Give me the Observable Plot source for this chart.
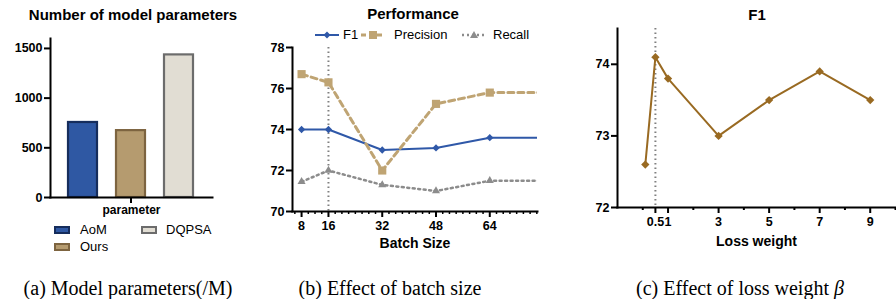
<!DOCTYPE html>
<html>
<head>
<meta charset="utf-8">
<script src="https://cdn.jsdelivr.net/npm/d3@7"></script>
<script src="https://cdn.jsdelivr.net/npm/@observablehq/plot@0.6"></script>
<style>
  html, body { margin: 0; padding: 0; background: #fff; }
  #root { position: relative; width: 896px; height: 299px; overflow: hidden; font-family: "Liberation Sans", Arial, sans-serif; color: #000; }
  .title { position: absolute; font-weight: bold; font-size: 15px; white-space: nowrap; transform: translateX(-50%); line-height: 1; }
  .cap { position: absolute; font-family: "Liberation Serif", "Times New Roman", serif; font-size: 20px; white-space: nowrap; line-height: 1; transform: translateX(-50%); }
  .leg { position: absolute; font-size: 13px; white-space: nowrap; display: flex; align-items: center; line-height: 1; }
  .leg svg { display: block; }
</style>
</head>
<body>
<div id="root"></div>
<script>
// ---------- data ----------
const models = ["AoM", "Ours", "DQPSA"];
const modelParams = [755, 673, 1435];
const modelFill = ["#2f58a3", "#b59b6f", "#e1ddd3"];
const modelStroke = ["#162d5c", "#7d6440", "#6c6c6c"];
const paramTicks = [0, 500, 1000, 1500];

const batchSizes = [8, 16, 32, 48, 64];
const f1Batch = [74.0, 74.0, 73.0, 73.1, 73.6];
const precisionBatch = [76.7, 76.3, 72.0, 75.25, 75.8];
const recallBatch = [71.45, 72.0, 71.3, 71.0, 71.5];
const batchTail = 80; // lines continue flat past the last marker
const selectedBatch = 16;
const batchYTicks = [70, 72, 74, 76, 78];
const batchMinorTicks = [6, 10, 12, 14, 18, 20, 22, 24, 26, 28, 30, 34, 36, 38, 40, 42, 44, 46, 50, 52, 54, 56, 58, 60, 62, 66, 68, 70, 72, 74, 76, 78];

const lossWeights = [0.1, 0.5, 1, 3, 5, 7, 9];
const f1Loss = [72.6, 74.1, 73.8, 73.0, 73.5, 73.9, 73.5];
const selectedLoss = 0.5;
const lossMajorTicks = [0.5, 1, 3, 5, 7, 9];
const lossMinorTicks = [0, 2, 4, 6, 8, 10];
const lossYTicks = [72, 73, 74];

const C_F1 = "#2f58a8", C_PRE = "#bfa473", C_REC = "#8c8c8c", C_LOSS = "#996a22", C_SEL = "#808080";
const FONT = "'Liberation Sans', Arial, sans-serif";
const plain = d => String(d);

const root = document.getElementById("root");
function place(el, left, top) {
  el.style.position = "absolute"; el.style.left = left + "px"; el.style.top = top + "px";
  root.appendChild(el);
}
function div(cls, html, left, top) {
  const d = document.createElement("div");
  d.className = cls; d.innerHTML = html;
  d.style.left = left + "px"; d.style.top = top + "px";
  root.appendChild(d); return d;
}
const baseStyle = { fontFamily: FONT, fontSize: "12.5px", fontWeight: "bold", color: "#000", background: "transparent", overflow: "visible" };

// ---------- panel (a) ----------
const paramRows = models.map((m, i) => ({ model: m, params: modelParams[i], i }));
const plotA = Plot.plot({
  width: 240, height: 225,
  marginLeft: 50, marginRight: 28, marginTop: 38, marginBottom: 28,
  x: { type: "band", domain: models, padding: 0.35, label: null },
  y: { domain: [0, 1600], label: null },
  style: baseStyle,
  marks: [
    ...paramRows.map(r => Plot.barY([r], { x: "model", y: "params", fill: modelFill[r.i], stroke: modelStroke[r.i], strokeWidth: 2.2, insetLeft: 1, insetRight: 1 })),
    Plot.axisY({ ticks: paramTicks, tickSize: 6, tickPadding: 2, strokeWidth: 2, tickFormat: plain, label: null }),
    Plot.axisX({ ticks: ["Ours"], tickSize: 6, strokeWidth: 2, tickFormat: () => "", label: null }),
    Plot.frame({ anchor: "left", strokeWidth: 2 }),
    Plot.frame({ anchor: "bottom", strokeWidth: 2 }),
    Plot.text(["parameter"], { frameAnchor: "bottom", dy: 16, fontSize: 12, fontWeight: "bold" })
  ]
});
place(plotA, 0, 0);
div("title", "Number of model parameters", 133, 7);

function rectSwatch(fill, stroke) {
  return `<svg width="16" height="8"><rect x="1" y="1" width="14" height="6" fill="${fill}" stroke="${stroke}" stroke-width="2"/></svg>`;
}
div("leg", rectSwatch(modelFill[0], modelStroke[0]) + `<span style="margin-left:10px">AoM</span>`, 54, 223);
div("leg", rectSwatch(modelFill[2], modelStroke[2]) + `<span style="margin-left:9px">DQPSA</span>`, 141, 223);
div("leg", rectSwatch(modelFill[1], modelStroke[1]) + `<span style="margin-left:10px">Ours</span>`, 54, 240);

// ---------- panel (b) ----------
const lineXs = [...batchSizes, batchTail];
const ext = arr => [...arr, arr[arr.length - 1]];
const series = [
  { name: "F1", vals: f1Batch, color: C_F1, width: 2, dash: null, symbol: "square", rotate: 45, r: 2.9 },
  { name: "Precision", vals: precisionBatch, color: C_PRE, width: 3, dash: "6,4", symbol: "square", rotate: 0, r: 4.6 },
  { name: "Recall", vals: recallBatch, color: C_REC, width: 2.5, dash: "2,3.5", symbol: "triangle", rotate: 0, r: 3 }
];
const plotB = Plot.plot({
  width: 300, height: 255,
  marginLeft: 42, marginRight: 13, marginTop: 47, marginBottom: 44,
  x: { domain: [5.3, 78.2], label: null },
  y: { domain: [70, 78], label: null },
  style: baseStyle,
  marks: [
    Plot.ruleX([selectedBatch], { stroke: C_SEL, strokeWidth: 2, strokeDasharray: "1.5,3" }),
    ...series.map(s => Plot.line(ext(s.vals), { x: (d, i) => lineXs[i], y: d => d, stroke: s.color, strokeWidth: s.width, strokeDasharray: s.dash, clip: true })),
    ...series.map(s => Plot.dot(s.vals, { x: (d, i) => batchSizes[i], y: d => d, symbol: s.symbol, rotate: s.rotate, r: s.r, fill: s.color, stroke: "none" })),
    Plot.axisY({ ticks: batchYTicks, tickSize: 6, tickPadding: 2, strokeWidth: 2, tickFormat: plain, label: null }),
    Plot.axisX({ ticks: batchMinorTicks, tickSize: 3, strokeWidth: 1.5, tickFormat: () => "", label: null }),
    Plot.axisX({ ticks: batchSizes, tickSize: 6, tickPadding: 4, strokeWidth: 2, tickFormat: plain, label: null }),
    Plot.frame({ anchor: "left", strokeWidth: 2 }),
    Plot.frame({ anchor: "bottom", strokeWidth: 2 }),
    Plot.text(["Batch Size"], { frameAnchor: "bottom", dy: 36, fontSize: 14, fontWeight: "bold" })
  ]
});
place(plotB, 250, 0);
div("title", "Performance", 413, 6);

function lineSwatch(color, width, dash, symbolSvg) {
  return `<svg width="26" height="12"><line x1="1" y1="6" x2="25" y2="6" stroke="${color}" stroke-width="${width}" ${dash ? `stroke-dasharray="${dash}"` : ""}/>${symbolSvg}</svg>`;
}
div("leg", lineSwatch(C_F1, 2, null, `<rect x="10.5" y="3.5" width="5" height="5" fill="${C_F1}" transform="rotate(45 13 6)"/>`) + `<span style="margin-left:3px">F1</span>`, 314, 28);
div("leg", lineSwatch(C_PRE, 3, "5,3", `<rect x="9" y="2" width="8" height="8" fill="${C_PRE}"/>`) + `<span style="margin-left:8px">Precision</span>`, 360, 28);
div("leg", lineSwatch(C_REC, 2.5, "2,3", `<path d="M13,2 L17,9 L9,9 Z" fill="${C_REC}"/>`) + `<span style="margin-left:6px">Recall</span>`, 461, 28);

// ---------- panel (c) ----------
const plotC = Plot.plot({
  width: 336, height: 255,
  marginLeft: 57, marginRight: 1, marginTop: 28, marginBottom: 48,
  x: { domain: [-1, 10], label: null },
  y: { domain: [72, 74.5], label: null },
  style: baseStyle,
  marks: [
    Plot.ruleX([selectedLoss], { stroke: C_SEL, strokeWidth: 2, strokeDasharray: "1.5,3" }),
    Plot.line(f1Loss, { x: (d, i) => lossWeights[i], y: d => d, stroke: C_LOSS, strokeWidth: 2 }),
    Plot.dot(f1Loss, { x: (d, i) => lossWeights[i], y: d => d, symbol: "square", rotate: 45, r: 3.3, fill: C_LOSS, stroke: "none" }),
    Plot.axisY({ ticks: lossYTicks, tickSize: 6, tickPadding: 2, strokeWidth: 2, tickFormat: plain, label: null }),
    Plot.axisX({ ticks: lossMinorTicks, tickSize: 3, strokeWidth: 2, tickFormat: () => "", label: null }),
    Plot.axisX({ ticks: lossMajorTicks, tickSize: 6, tickPadding: 4, strokeWidth: 2, tickFormat: plain, label: null }),
    Plot.frame({ anchor: "left", strokeWidth: 2 }),
    Plot.frame({ anchor: "bottom", strokeWidth: 2 }),
    Plot.text(["Loss weight"], { frameAnchor: "bottom", dy: 38, fontSize: 14, fontWeight: "bold" })
  ]
});
place(plotC, 560, 0);
div("title", "F1", 757, 7);

// ---------- captions ----------
div("cap", "(a) Model parameters(/M)", 128, 278);
div("cap", "(b) Effect of batch size", 390, 278);
div("cap", "(c) Effect of loss weight <i>β</i>", 740, 278);
</script>
</body>
</html>
